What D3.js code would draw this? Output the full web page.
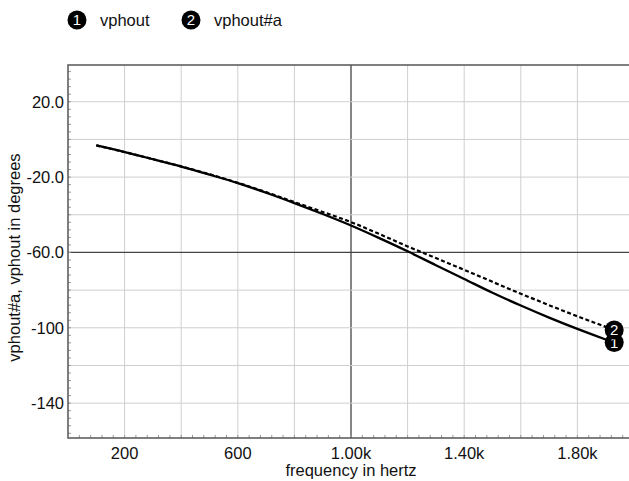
<!DOCTYPE html>
<html>
<head>
<meta charset="utf-8">
<script src="https://cdn.jsdelivr.net/npm/d3@7"></script>
<style>
  body { margin: 0; background: #fff; }
  svg { display: block; font-family: "Liberation Sans", Arial, sans-serif; }
</style>
</head>
<body>
<div id="chart"></div>
<script>
// frequency points (Hz)
const freqs = [100, 200, 300, 400, 500, 600, 700, 800, 900, 1000,
               1100, 1200, 1300, 1400, 1500, 1600, 1700, 1800, 1900, 1930];
// phase, degrees
const vphout = [-3.2, -6.7, -10.5, -14.4, -18.7, -23.2, -28.3, -33.8, -39.6, -45.7,
                -52.4, -59.4, -66.8, -74.1, -81.4, -88.2, -94.6, -100.6, -106.2, -107.8];
const vphoutA = [-3.2, -6.7, -10.5, -14.3, -18.5, -23.0, -28.0, -33.3, -38.5, -43.9,
                 -50.2, -56.8, -63.0, -69.2, -75.6, -81.9, -88.0, -93.9, -99.5, -101.2];

const seriesNames = ["vphout", "vphout#a"];
const xTickLabels = [200, 600, 1000, 1400, 1800];
const yTickLabels = [20, -20, -60, -100, -140];

const width = 629, height = 481;
const margin = {top: 65, right: -5, bottom: 43, left: 68};
const fontSize = 16.5;

const svg = d3.select("#chart").append("svg")
    .attr("width", width)
    .attr("height", height);

const x = d3.scaleLinear()
    .domain([0, 2000])
    .range([margin.left, width - margin.right]);

const y = d3.scaleLinear()
    .domain([-158.5, 39.5])
    .range([height - margin.bottom, margin.top]);

const x0 = margin.left, x1 = width - margin.right;
const y0 = height - margin.bottom, y1 = margin.top;

// grid
const grid = svg.append("g");
grid.selectAll(".vg")
    .data(d3.range(200, 2000, 200))
    .join("line")
    .attr("x1", d => x(d)).attr("x2", d => x(d))
    .attr("y1", y1).attr("y2", y0)
    .attr("stroke", d => d === 1000 ? "#444" : "#cfcfcf")
    .attr("stroke-width", d => d === 1000 ? 1.3 : 1);

grid.selectAll(".hg")
    .data(d3.range(-140, 40, 20))
    .join("line")
    .attr("x1", x0).attr("x2", x1)
    .attr("y1", d => y(d)).attr("y2", d => y(d))
    .attr("stroke", d => d === -60 ? "#444" : "#cfcfcf")
    .attr("stroke-width", d => d === -60 ? 1.3 : 1);

// minor ticks
svg.append("g").selectAll("line")
    .data(d3.range(-156, 40, 4))
    .join("line")
    .attr("x1", x0).attr("x2", x0 + 3)
    .attr("y1", d => y(d)).attr("y2", d => y(d))
    .attr("stroke", "#999");

svg.append("g").selectAll("line")
    .data(d3.range(40, 2000, 40))
    .join("line")
    .attr("x1", d => x(d)).attr("x2", d => x(d))
    .attr("y1", y0).attr("y2", y0 - 3)
    .attr("stroke", "#999");

// frame
svg.append("path")
    .attr("d", `M${x1},${y1}H${x0}V${y0}H${x1}`)
    .attr("fill", "none")
    .attr("stroke", "#555")
    .attr("stroke-width", 1.5);

// tick labels
const fmtX = d => d >= 1000 ? (d / 1000).toFixed(2) + "k" : String(d);
const fmtY = d => Math.abs(d) >= 100 ? String(d) : d.toFixed(1);

svg.append("g").selectAll("text")
    .data(xTickLabels)
    .join("text")
    .attr("x", d => x(d))
    .attr("y", y0 + 21)
    .attr("text-anchor", "middle")
    .attr("font-size", fontSize)
    .attr("fill", "#111")
    .text(fmtX);

svg.append("g").selectAll("text")
    .data(yTickLabels)
    .join("text")
    .attr("x", x0 - 4)
    .attr("y", d => y(d))
    .attr("dy", "0.35em")
    .attr("text-anchor", "end")
    .attr("font-size", fontSize)
    .attr("fill", "#111")
    .text(fmtY);

// axis titles
svg.append("text")
    .attr("x", x(1000))
    .attr("y", 476)
    .attr("text-anchor", "middle")
    .attr("font-size", fontSize)
    .attr("fill", "#111")
    .text("frequency in hertz");

svg.append("text")
    .attr("transform", `translate(20,${(y0 + y1) / 2 + 6}) rotate(-90)`)
    .attr("text-anchor", "middle")
    .attr("font-size", fontSize)
    .attr("fill", "#111")
    .text("vphout#a, vphout in degrees");

// curves
const data1 = freqs.map((f, i) => [f, vphout[i]]);
const data2 = freqs.map((f, i) => [f, vphoutA[i]]);

const line = d3.line()
    .x(d => x(d[0]))
    .y(d => y(d[1]))
    .curve(d3.curveMonotoneX);

svg.append("path")
    .datum(data2)
    .attr("d", line)
    .attr("fill", "none")
    .attr("stroke", "#000")
    .attr("stroke-width", 2.2)
    .attr("stroke-dasharray", "4,2.5");

svg.append("path")
    .datum(data1)
    .attr("d", line)
    .attr("fill", "none")
    .attr("stroke", "#000")
    .attr("stroke-width", 2.3);

// end markers
function marker(cx, cy, label){
    svg.append("circle")
        .attr("cx", cx).attr("cy", cy).attr("r", 9.5)
        .attr("fill", "#000");
    svg.append("text")
        .attr("x", cx).attr("y", cy)
        .attr("dy", "0.36em")
        .attr("text-anchor", "middle")
        .attr("font-size", 15)
        .attr("fill", "#fff")
        .text(label);
}

const last = freqs.length - 1;
marker(x(freqs[last]), y(vphout[last]), "1");
marker(x(freqs[last]), y(vphoutA[last]), "2");

// legend
const legend = svg.append("g");
seriesNames.forEach((name, i) => {
    const lx = 77 + i * 114;
    legend.append("circle")
        .attr("cx", lx).attr("cy", 20).attr("r", 9.5)
        .attr("fill", "#000");
    legend.append("text")
        .attr("x", lx).attr("y", 20)
        .attr("dy", "0.36em")
        .attr("text-anchor", "middle")
        .attr("font-size", 15)
        .attr("fill", "#fff")
        .text(i + 1);
    legend.append("text")
        .attr("x", lx + 23).attr("y", 20)
        .attr("dy", "0.36em")
        .attr("font-size", fontSize)
        .attr("fill", "#111")
        .text(name);
});
</script>
</body>
</html>
